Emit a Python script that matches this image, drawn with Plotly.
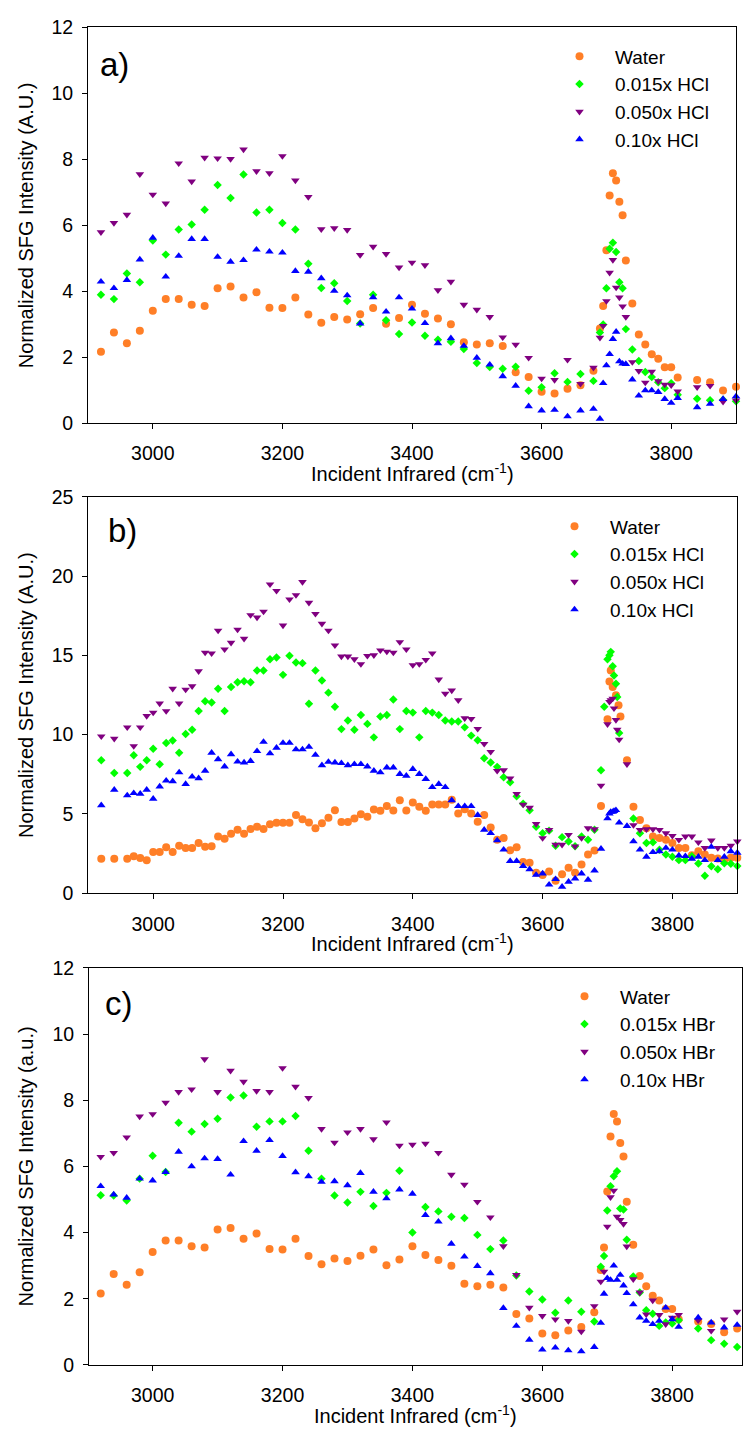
import plotly.graph_objects as go

FONT = "Liberation Sans, Arial, sans-serif"
W, H = 746, 1437

# ---------------- data ----------------
# Panels a) and c): shared wavenumber grid (cm-1)
x_ac = [2920, 2940, 2960, 2980, 3000, 3020, 3040, 3060, 3080, 3100, 3120, 3140, 3160,
        3180, 3200, 3220, 3240, 3260, 3280, 3300, 3320, 3340, 3360, 3380, 3400, 3420,
        3440, 3460, 3480, 3500, 3520, 3540, 3560, 3580, 3600, 3620, 3640, 3660, 3680,
        3690, 3695, 3700, 3705, 3710, 3715, 3720, 3725, 3730,
        3740, 3750, 3760, 3770, 3780, 3790, 3800, 3810,
        3840, 3860, 3880, 3900]

water_ac = [2.16, 2.75, 2.42, 2.80, 3.41, 3.76, 3.76, 3.59, 3.55, 4.09, 4.14, 3.81, 3.97,
            3.50, 3.49, 3.81, 3.29, 3.04, 3.22, 3.14, 3.30, 3.49, 3.01, 3.19, 3.59,
            3.32, 3.17, 3.00, 2.45, 2.38, 2.42, 2.34, 1.54, 1.40, 0.95, 0.90, 1.04, 1.15, 1.59,
            2.87, 3.55, 5.24, 6.90, 7.58, 7.36, 6.71, 6.30, 4.93,
            3.63, 2.69, 2.38, 2.09, 1.95, 1.69, 1.69, 1.38,
            1.31, 1.24, 0.99, 1.10]

hcl015_a = [3.89, 3.76, 4.54, 4.27, 5.54, 5.11, 5.87, 6.02, 6.47, 7.22, 6.83, 7.54, 6.39,
            6.47, 6.07, 5.87, 4.83, 4.10, 4.24, 3.70, 3.02, 3.89, 3.12, 2.70, 3.05,
            2.65, 2.53, 2.47, 2.25, 1.82, 1.70, 1.65, 1.71, 0.98, 1.09, 1.51, 1.25, 1.49, 1.28,
            2.75, 2.99, 4.09, 5.29, 5.47, 5.19, 4.27, 4.09, 2.85,
            2.23, 1.88, 1.55, 1.40, 1.24, 1.06, 1.21, 0.86,
            0.74, 0.69, 0.71, 0.66]

hcl050_a = [5.79, 6.07, 6.32, 7.55, 6.93, 6.66, 7.88, 7.33, 8.05, 8.03, 8.01, 8.30, 7.64,
            7.58, 8.10, 7.36, 6.86, 5.88, 5.91, 5.86, 5.10, 5.35, 5.13, 4.72, 4.87,
            4.79, 4.03, 4.29, 3.59, 3.44, 3.22, 2.60, 2.38, 1.98, 1.35, 1.31, 1.92, 1.19, 1.68,
            2.59, 2.95, 3.70, 4.56, 4.95, 4.11, 3.81, 3.54, 3.22,
            1.85, 1.58, 1.23, 1.56, 1.27, 1.17, 1.15, 0.96,
            1.09, 1.13, 0.65, 0.69]

hcl10_a = [4.29, 4.09, 4.34, 4.96, 5.62, 4.44, 5.07, 5.58, 5.58, 5.04, 4.89, 4.94, 5.26,
           5.20, 5.17, 4.61, 4.59, 4.39, 4.01, 3.87, 3.02, 3.81, 3.38, 3.81, 3.47,
           3.03, 2.42, 2.57, 2.34, 1.98, 1.77, 1.42, 1.13, 0.51, 0.38, 0.40, 0.20, 0.38, 0.43,
           0.13, 1.21, 1.75, 2.09, 2.55, 2.77, 1.87, 1.80, 1.79,
           1.32, 0.83, 0.99, 0.99, 0.94, 0.73, 0.61, 0.76,
           0.48, 0.58, 0.73, 0.81]

hbr015_c = [5.13, 5.12, 4.97, 5.63, 6.32, 5.83, 7.32, 7.05, 7.28, 7.44, 8.08, 8.14, 7.20,
            7.36, 7.36, 7.52, 6.47, 5.63, 5.12, 4.91, 5.23, 4.80, 5.20, 5.87, 4.00,
            4.77, 4.64, 4.48, 4.44, 3.93, 3.50, 3.76, 2.70, 2.22, 1.98, 1.58, 1.95, 1.61, 1.31,
            2.97, 3.29, 4.67, 5.40, 5.70, 5.85, 4.73, 4.70, 3.78,
            2.67, 2.19, 1.65, 1.55, 1.18, 1.28, 1.25, 1.35,
            1.10, 0.75, 0.64, 0.54]

hbr050_c = [6.29, 6.41, 6.88, 7.51, 7.58, 7.93, 8.25, 8.33, 9.24, 8.25, 8.89, 8.56, 8.28,
            8.25, 8.97, 8.41, 8.07, 7.13, 6.72, 7.03, 7.13, 6.82, 7.33, 6.63, 6.66,
            6.69, 6.41, 5.75, 5.45, 4.93, 4.46, 3.59, 2.72, 1.73, 1.48, 1.38, 1.33, 1.01, 1.78,
            2.52, 2.82, 4.18, 5.07, 5.27, 4.48, 4.38, 4.26, 3.58,
            2.59, 2.19, 1.53, 1.95, 1.51, 1.23, 1.43, 1.51,
            1.35, 1.03, 1.38, 1.61]

hbr10_c = [5.40, 5.15, 5.05, 5.63, 5.57, 5.83, 6.44, 6.00, 6.24, 6.22, 5.75, 6.76, 6.47,
           6.79, 6.31, 5.82, 5.70, 5.53, 5.55, 5.43, 5.80, 5.23, 5.03, 5.30, 5.17,
           4.53, 4.33, 3.66, 3.27, 2.99, 2.77, 1.72, 1.18, 0.76, 0.46, 0.52, 0.44, 0.41, 0.54,
           1.27, 2.15, 2.62, 2.57, 3.00, 2.57, 2.72, 2.40, 2.17,
           1.83, 1.43, 1.33, 1.23, 1.33, 1.73, 1.38, 1.15,
           1.43, 1.28, 1.13, 1.21]

# Panel b): main grid, then per-series free-OH peak points, then shared tail grid
x_b_main = [2920, 2940, 2960, 2970, 2980, 2990, 3000, 3010, 3020, 3030, 3040, 3050, 3060,
            3070, 3080, 3090, 3100, 3110, 3120, 3130, 3140, 3150, 3160, 3170, 3180, 3190,
            3200, 3210, 3220, 3230, 3240, 3250, 3260, 3270, 3280, 3290, 3300, 3310, 3320,
            3330, 3340, 3350, 3360, 3370, 3380, 3390, 3400, 3410, 3420, 3430, 3440, 3450,
            3460, 3470, 3480, 3490, 3500, 3510, 3520, 3530, 3540, 3550, 3560, 3570, 3580,
            3590, 3600, 3610, 3620, 3630, 3640, 3650, 3660, 3670, 3680]
x_b_tail = [3740, 3750, 3760, 3770, 3780, 3790, 3800, 3810, 3820, 3830, 3840, 3850, 3860,
            3870, 3880, 3890, 3900]

water_b_main = [2.17, 2.17, 2.17, 2.34, 2.22, 2.09, 2.61, 2.61, 2.90, 2.61, 3.00, 2.86, 2.86,
                3.17, 2.94, 2.96, 3.58, 3.44, 3.75, 4.00, 3.75, 4.06, 4.20, 4.06, 4.35, 4.45,
                4.45, 4.45, 4.93, 4.66, 4.47, 4.10, 4.41, 4.76, 5.24, 4.49, 4.49, 4.72, 4.99,
                4.82, 5.28, 5.20, 5.51, 5.22, 5.86, 5.22, 5.73,
                5.45, 5.20, 5.59, 5.59, 5.59, 5.90, 5.03, 5.30, 5.03, 4.51, 4.93, 4.14, 3.37,
                3.48, 2.71, 2.90, 1.97, 1.93, 1.30, 1.16, 1.37, 0.79, 1.20, 1.61, 1.30, 1.82,
                2.44, 2.69]
water_b_peak_x = [3690, 3700, 3703, 3705, 3708, 3713, 3717, 3720, 3730]
water_b_peak = [5.51, 10.97, 13.35, 14.04, 13.00, 12.48, 11.86, 11.14, 8.39]
water_b_tail = [5.45, 4.62, 4.10, 3.58, 3.48, 3.37, 3.17, 2.86, 2.86, 2.40, 2.65, 2.44, 2.24,
                2.20, 2.03, 2.24, 2.24]

hcl015_b_main = [8.39, 7.58, 7.58, 8.70, 7.97, 8.39, 9.11, 8.14, 9.48, 9.63, 8.86, 10.04,
                 10.31, 11.49, 12.11, 12.03, 12.90, 11.49, 13.00, 13.31, 13.37, 13.31, 14.04,
                 14.04, 14.76, 14.87, 13.77, 14.97, 14.55, 14.51, 11.95, 14.04, 13.42, 12.65,
                 11.76, 10.35, 10.89, 10.31, 11.24, 10.68, 9.83, 11.14, 11.24, 12.22, 10.35,
                 11.49, 11.39,
                 9.83, 11.49, 11.39, 11.24, 10.89, 10.83, 10.83, 10.46, 9.94, 9.65, 8.51, 8.24,
                 7.97, 7.31, 7.00, 6.11, 5.65, 5.24, 4.20, 3.79, 3.95, 3.00, 3.54, 3.27, 2.96,
                 3.58, 3.37, 4.00]
hcl015_b_peak_x = [3690, 3695, 3700, 3703, 3705, 3708, 3710, 3713, 3715, 3718]
hcl015_b_peak = [7.76, 11.76, 14.76, 15.01, 15.22, 14.31, 13.73, 13.21, 12.38, 10.10]
hcl015_b_tail = [4.72, 3.79, 3.17, 3.21, 2.75, 2.45, 2.30, 2.09, 2.09, 2.34, 1.88, 1.10, 1.70,
                 1.51, 1.90, 1.86, 1.72]

hcl050_b_main = [9.90, 9.75, 10.46, 9.28, 10.46, 11.18, 11.39, 11.97, 11.49, 12.90, 11.97,
                 12.84, 13.06, 14.00, 15.18, 15.13, 16.56, 15.38, 15.80, 16.63, 16.05, 17.54,
                 17.39, 17.76, 19.48, 19.07, 16.89, 18.53, 18.80, 19.63, 18.32, 17.62, 17.00,
                 16.56, 15.63, 14.93, 14.93, 14.76, 14.45, 14.97, 15.01, 15.32, 15.24, 15.18,
                 15.84, 15.38, 14.39,
                 14.45, 14.72, 15.13, 13.48, 12.59, 12.79, 12.17, 11.04, 11.00, 10.37, 9.42,
                 8.92, 7.72, 7.76, 7.25, 6.27, 5.59, 5.40, 4.37, 3.48, 4.00, 3.06, 3.06, 3.69,
                 2.96, 3.48, 4.10, 4.04]
hcl050_b_peak_x = [3690, 3700, 3703, 3705, 3708, 3710, 3713, 3715, 3718, 3730]
hcl050_b_peak = [6.79, 10.66, 12.07, 12.17, 12.28, 11.66, 10.93, 10.31, 9.69, 8.14]
hcl050_b_tail = [4.30, 4.00, 4.04, 4.04, 4.00, 3.79, 3.62, 3.37, 3.58, 3.58, 3.21, 2.86, 3.33,
                 2.86, 2.86, 3.00, 3.27]

hcl10_b_main = [5.55, 6.52, 6.17, 6.31, 6.27, 6.52, 5.96, 6.73, 7.10, 7.06, 7.62, 6.89, 7.35,
                7.25, 7.72, 8.86, 8.45, 7.99, 8.76, 8.30, 8.24, 8.34, 8.96, 9.54, 8.82, 9.17,
                9.48, 9.48, 9.07, 9.07, 9.23, 8.72, 8.07, 8.28, 8.24, 8.20, 8.07, 8.14, 8.14,
                7.99, 7.72, 7.62, 7.93, 7.93, 7.52, 7.41, 7.83,
                7.52, 7.20, 6.69, 6.89, 6.69, 5.86, 5.49, 5.49, 5.49, 4.93, 4.00, 3.79, 3.33,
                2.75, 2.03, 2.03, 1.72, 1.51, 1.16, 1.24, 0.54, 0.89, 0.41, 0.72, 0.93, 1.24,
                0.85, 1.43]
hcl10_b_peak_x = [3690, 3700, 3703, 3705, 3708, 3710, 3713, 3718, 3730]
hcl10_b_peak = [2.80, 4.72, 5.03, 5.13, 5.13, 5.18, 5.24, 4.45, 4.24]
hcl10_b_tail = [3.27, 2.75, 2.30, 2.59, 2.65, 2.86, 2.75, 2.38, 2.34, 2.17, 2.30, 2.09, 2.92,
                2.09, 2.30, 2.65, 2.55]

names_hcl = ["Water", "0.015x HCl", "0.050x HCl", "0.10x HCl"]
names_hbr = ["Water", "0.015x HBr", "0.050x HBr", "0.10x HBr"]

# ---------------- style ----------------
COLORS = ["#FF7F27", "#00FF00", "#800080", "#0000FF"]
SYMBOLS = ["circle", "diamond", "triangle-down", "triangle-up"]
SIZES = [8, 6.5, 7.5, 7.5]


def px_x(p):
    return p / W


def px_y(p):
    return 1 - p / H


fig = go.Figure()


def add_series(xs, ys, i, name, ax, legend):
    assert len(xs) == len(ys), (name, ax, len(xs), len(ys))
    fig.add_trace(go.Scatter(
        x=xs, y=ys, mode="markers", name=name,
        marker=dict(color=COLORS[i], symbol=SYMBOLS[i], size=SIZES[i], line=dict(width=0)),
        xaxis="x" + ax, yaxis="y" + ax, legend=legend, cliponaxis=False,
    ))


# panel a
for i, ys in enumerate([water_ac, hcl015_a, hcl050_a, hcl10_a]):
    add_series(x_ac, ys, i, names_hcl[i], "", "legend")

# panel b
b_sets = [
    (water_b_main, water_b_peak_x, water_b_peak, water_b_tail),
    (hcl015_b_main, hcl015_b_peak_x, hcl015_b_peak, hcl015_b_tail),
    (hcl050_b_main, hcl050_b_peak_x, hcl050_b_peak, hcl050_b_tail),
    (hcl10_b_main, hcl10_b_peak_x, hcl10_b_peak, hcl10_b_tail),
]
for i, (m, px_, pk, tl) in enumerate(b_sets):
    add_series(x_b_main + px_ + x_b_tail, m + pk + tl, i, names_hcl[i], "2", "legend2")

# panel c
for i, ys in enumerate([water_ac, hbr015_c, hbr050_c, hbr10_c]):
    add_series(x_ac, ys, i, names_hbr[i], "3", "legend3")

# panel geometry (pixels)
panels = {
    "": dict(left=88, right=736, top=16.7, bottom=418.5, xr=[2900, 3900], yr=[0, 12], dt=2),
    "2": dict(left=88.3, right=737.3, top=493.3, bottom=896, xr=[2900, 3900], yr=[0, 25], dt=5),
    "3": dict(left=89, right=741.7, top=971.7, bottom=1375, xr=[2902, 3907], yr=[0, 12], dt=2),
}

layout = dict(
    width=W, height=H, margin=dict(l=0, r=0, t=0, b=0),
    paper_bgcolor="white", plot_bgcolor="white",
    font=dict(family=FONT, color="black", size=20),
    showlegend=True,
)

annotations = []
labels = {"": "a)", "2": "b)", "3": "c)"}
label_pos = {"": (98, 54), "2": (106, 528), "3": (103, 1008)}
ytitles = {"": "Normalized SFG Intensity (A.U.)", "2": "Normalized SFG Intensity (A.U.)",
           "3": "Normalized SFG Intensity (a.u.)"}

for ax, p in panels.items():
    xname = "xaxis" + ax
    yname = "yaxis" + ax
    common = dict(showline=True, linecolor="black", linewidth=1, mirror=True,
                  ticks="outside", ticklen=5, tickwidth=1, tickcolor="black",
                  showgrid=False, zeroline=False,
                  tickfont=dict(family=FONT, size=19.5, color="black"))
    layout[xname] = dict(common, domain=[px_x(p["left"]), px_x(p["right"])],
                         range=p["xr"], tickmode="array",
                         tickvals=[3000, 3200, 3400, 3600, 3800],
                         anchor="y" + ax, ticklabelstandoff=8)
    layout[yname] = dict(common, domain=[px_y(p["bottom"]), px_y(p["top"])],
                         range=p["yr"], dtick=p["dt"], tick0=0,
                         anchor="x" + ax, ticklabelstandoff=5)
    # axis titles
    annotations.append(dict(
        text="Incident Infrared (cm<sup>-1</sup>)", xref="paper", yref="paper",
        x=px_x((p["left"] + p["right"]) / 2), y=px_y(p["bottom"] + 50),
        xanchor="center", yanchor="middle", showarrow=False,
        font=dict(family=FONT, size=20, color="black")))
    annotations.append(dict(
        text=ytitles[ax], xref="paper", yref="paper", textangle=-90,
        x=px_x(26), y=px_y((p["top"] + p["bottom"]) / 2),
        xanchor="center", yanchor="middle", showarrow=False,
        font=dict(family=FONT, size=20, color="black")))
    lx, ly = label_pos[ax]
    annotations.append(dict(
        text=labels[ax], xref="paper", yref="paper", x=px_x(lx), y=px_y(ly),
        xanchor="left", yanchor="middle", showarrow=False,
        font=dict(family=FONT, size=33, color="black")))

layout["annotations"] = annotations

leg_common = dict(xanchor="left", yanchor="top", bgcolor="rgba(0,0,0,0)",
                  borderwidth=0, font=dict(family=FONT, size=19, color="black"),
                  itemwidth=61, tracegroupgap=0)
layout["legend"] = dict(leg_common, x=px_x(615 - 71), y=px_y(49.3 - 22.5))
layout["legend2"] = dict(leg_common, x=px_x(610 - 71), y=px_y(526.7 - 22.5))
layout["legend3"] = dict(leg_common, x=px_x(620 - 71), y=px_y(1004 - 22.5))

fig.update_layout(**layout)
fig.write_html("out.html")
